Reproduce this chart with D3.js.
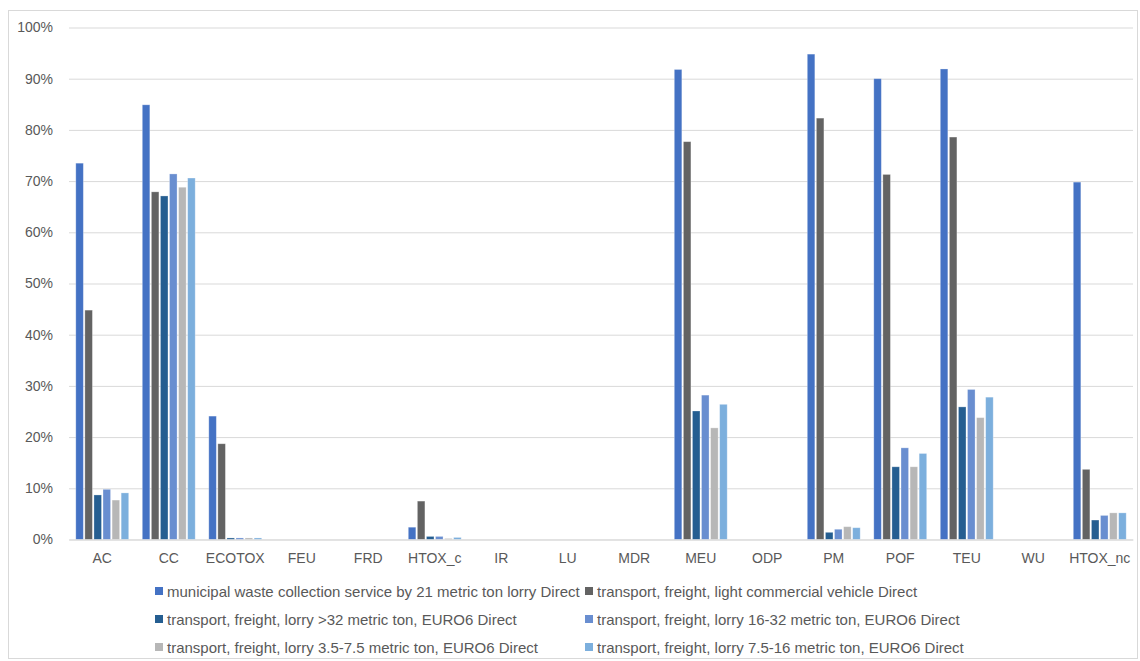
<!DOCTYPE html>
<html><head><meta charset="utf-8">
<script src="https://cdn.jsdelivr.net/npm/d3@7"></script>
<style>
html,body{margin:0;padding:0;background:#fff;}
svg{display:block;}
text{font-family:"Liberation Sans",Arial,sans-serif;fill:#595959;}
</style></head>
<body>
<svg id="c" width="1140" height="661"></svg>
<script>
const categories = ["AC","CC","ECOTOX","FEU","FRD","HTOX_c","IR","LU","MDR","MEU","ODP","PM","POF","TEU","WU","HTOX_nc"];
const seriesNames = [
  "municipal waste collection service by 21 metric ton lorry Direct",
  "transport, freight, light commercial vehicle Direct",
  "transport, freight, lorry >32 metric ton, EURO6 Direct",
  "transport, freight, lorry 16-32 metric ton, EURO6 Direct",
  "transport, freight, lorry 3.5-7.5 metric ton, EURO6 Direct",
  "transport, freight, lorry 7.5-16 metric ton, EURO6 Direct"
];
const municipalWaste = [73.5,84.9,24.1,0,0,2.4,0,0,0,91.8,0,94.8,90.0,91.9,0,69.8];
const lightCommercial = [44.8,67.9,18.7,0,0,7.5,0,0,0,77.7,0,82.3,71.3,78.6,0,13.7];
const lorryOver32 = [8.7,67.1,0.3,0,0,0.6,0,0,0,25.1,0,1.4,14.2,25.9,0,3.8];
const lorry16to32 = [9.8,71.4,0.3,0,0,0.6,0,0,0,28.2,0,2.0,17.9,29.3,0,4.7];
const lorry35to75 = [7.7,68.8,0.3,0,0,0.2,0,0,0,21.8,0,2.5,14.2,23.8,0,5.2];
const lorry75to16 = [9.1,70.6,0.3,0,0,0.4,0,0,0,26.4,0,2.3,16.8,27.8,0,5.2];
const yTicks = [0,10,20,30,40,50,60,70,80,90,100];
const colors = ["#4472C4","#636363","#255E91","#698ED0","#B7B7B7","#7CAFDD"];

(function(){
const allSeries = [municipalWaste, lightCommercial, lorryOver32, lorry16to32, lorry35to75, lorry75to16];
const svg = d3.select("#c");
const FONT = '"Liberation Sans",Arial,sans-serif';

svg.append("rect").attr("x",8.5).attr("y",10.5).attr("width",1129).attr("height",648)
  .attr("fill","none").attr("stroke","#d9d9d9");

const pLeft = 69, pRight = 1133, pTop = 27.5, pBottom = 539.5;
const x0 = d3.scaleBand().domain(categories).range([pLeft,pRight]).paddingInner(0).paddingOuter(0);
const x1 = d3.scaleBand().domain(d3.range(6)).range([0, x0.bandwidth()]).paddingOuter(0.75).paddingInner(0.17);
const y = d3.scaleLinear().domain([0,100]).range([pBottom, pTop]);

const yAxis = d3.axisLeft(y).tickValues(yTicks).tickSize(-(pRight-pLeft)).tickFormat(d => d + "%").tickPadding(16);
const gy = svg.append("g").attr("transform",`translate(${pLeft},0)`).call(yAxis);
gy.select(".domain").remove();
gy.selectAll(".tick line").attr("stroke","#d9d9d9").attr("stroke-width",1);
gy.selectAll(".tick text").attr("font-size",14).style("fill","#595959").attr("font-family",FONT);

const groups = svg.append("g").selectAll("g").data(categories).join("g")
  .attr("transform", d => `translate(${x0(d)},0)`);
groups.selectAll("rect").data((c,i) => allSeries.map((s,k) => ({k, v: s[i]}))).join("rect")
  .attr("x", d => x1(d.k))
  .attr("width", x1.bandwidth())
  .attr("y", d => y(d.v))
  .attr("height", d => Math.max(0, pBottom - y(d.v)))
  .attr("fill", d => colors[d.k])
  .attr("stroke","#ffffff").attr("stroke-opacity",0.35).attr("stroke-width",0.8);

const xAxis = d3.axisBottom(x0).tickSize(0).tickPadding(14);
const gx = svg.append("g").attr("transform",`translate(0,${pBottom})`).call(xAxis);
gx.select(".domain").attr("stroke","#d9d9d9");
gx.selectAll(".tick text").attr("font-size",14).style("fill","#595959").attr("font-family",FONT);

const legendPos = [[155,592],[585,592],[155,620],[585,620],[155,648],[585,648]];
const lg = svg.append("g").selectAll("g").data(seriesNames).join("g")
  .attr("transform",(d,i)=>`translate(${legendPos[i][0]},${legendPos[i][1]})`);
lg.append("rect").attr("x",0).attr("y",-5).attr("width",8).attr("height",8).attr("fill",(d,i)=>colors[i]);
lg.append("text").attr("x",12).attr("y",0).attr("dy","0.35em").attr("font-size",15).attr("font-family",FONT).text(d=>d);
})();
</script>
</body></html>
